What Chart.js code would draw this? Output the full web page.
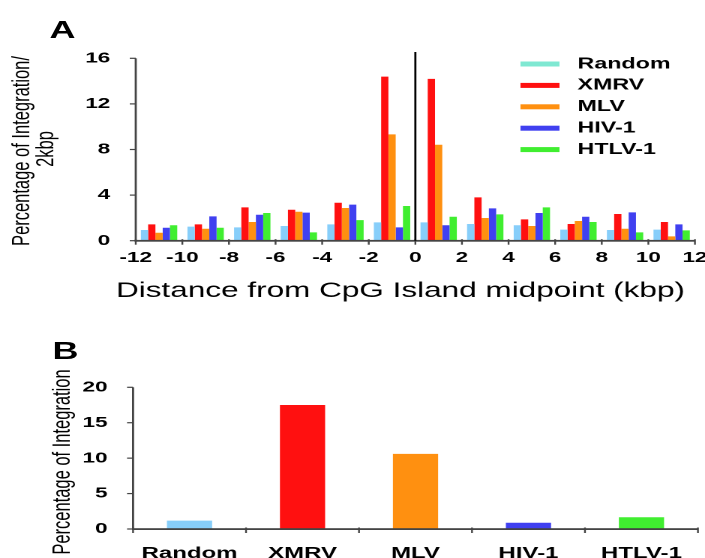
<!DOCTYPE html>
<html>
<head>
<meta charset="utf-8">
<script src="https://cdn.jsdelivr.net/npm/chart.js@4/dist/chart.umd.min.js"></script>
<style>
  html, body { margin: 0; padding: 0; background: #fff; }
  body { width: 705px; height: 558px; overflow: hidden; position: relative; }
  /* the figure is drawn narrow and stretched sideways, like the original */
  .stretch { position: absolute; left: 0; width: 470px; transform: scaleX(1.5); transform-origin: 0 0; }
  #wrapA { top: 0; height: 320px; }
  #wrapB { top: 320px; height: 238px; }
  .panel { position: absolute; font: bold 24px "Liberation Sans", Arial, sans-serif; color: #000; }
</style>
</head>
<body>
<div class="stretch" id="wrapA">
  <canvas id="chartA" width="470" height="320"></canvas>
  <div class="panel" style="left:33px; top:16px;">A</div>
</div>
<div class="stretch" id="wrapB">
  <canvas id="chartB" width="470" height="238"></canvas>
  <div class="panel" style="left:35px; top:17px;">B</div>
</div>
<script>
// Datos del panel A: % de integracion por ventana de 2 kbp
const centrosKbp = [-11, -9, -7, -5, -3, -1, 1, 3, 5, 7, 9, 11];
const random = [0.94, 1.23, 1.17, 1.29, 1.43, 1.61, 1.61, 1.46, 1.35, 0.97, 0.94, 0.97];
const xmrv   = [1.43, 1.43, 2.92, 2.72, 3.33, 14.39, 14.2, 3.8, 1.87, 1.46, 2.34, 1.64];
const mlv    = [0.70, 1.05, 1.64, 2.54, 2.87, 9.33, 8.42, 1.99, 1.29, 1.73, 1.05, 0.38];
const hiv    = [1.14, 2.13, 2.28, 2.46, 3.16, 1.17, 1.35, 2.84, 2.43, 2.10, 2.49, 1.43];
const htlv   = [1.35, 1.14, 2.43, 0.73, 1.81, 3.04, 2.10, 2.31, 2.92, 1.64, 0.73, 0.91];
const ticksXA = [-12, -10, -8, -6, -4, -2, 0, 2, 4, 6, 8, 10, 12];
const ticksYA = [0, 4, 8, 12, 16];

// Datos del panel B: % total de integracion
const virus = ['Random', 'XMRV', 'MLV', 'HIV-1', 'HTLV-1'];
const totales = [1.18, 17.5, 10.6, 0.89, 1.65];
const ticksYB = [0, 5, 10, 15, 20];

const FUENTE = '"Liberation Sans", Arial, sans-serif';
const EJE = '#444444';

const coloresBarra = ['#87cefa', '#ff1010', '#ff9010', '#4040f0', '#40ee30'];
const coloresLeyenda = ['#7fe8d2', '#ff1010', '#ff9010', '#4040f0', '#40ee30'];
const series = [random, xmrv, mlv, hiv, htlv];

// rango y paso del eje a partir de la lista de ticks
function rango(lista) {
    return { min: lista[0], max: lista[lista.length - 1], paso: lista[1] - lista[0] };
}

function textoVertical(ctx, texto, x, y, font) {
    ctx.save();
    ctx.translate(x, y);
    ctx.rotate(-Math.PI / 2);
    ctx.font = font;
    ctx.fillStyle = '#000';
    ctx.textAlign = 'center';
    ctx.textBaseline = 'middle';
    ctx.fillText(texto, 0, 0);
    ctx.restore();
}

// Ejes y marcas como rectangulos rellenos, con las posiciones de las escalas
function dibujarEjes(chart, marcasX) {
    const ctx = chart.ctx;
    const a = chart.chartArea;
    const sx = chart.scales.x, sy = chart.scales.y;
    ctx.save();
    ctx.globalAlpha = 1;
    ctx.fillStyle = EJE;
    ctx.fillRect(a.left - 0.7, a.top, 1.4, a.bottom - a.top + 1);      // eje y
    ctx.fillRect(a.left - 0.7, a.bottom - 0.8, a.right - a.left + 0.7, 1.8); // eje x
    sy.ticks.forEach((t, i) => {
        const y = sy.getPixelForTick(i);
        ctx.fillRect(a.left - 4, y - 0.6, 4, 1.2);
    });
    marcasX.forEach(v => {
        const x = sx.getPixelForValue(v);
        ctx.fillRect(x - 0.6, a.bottom - 1.5, 1.2, 5.5);
    });
    ctx.restore();
}

// Ejes, linea en 0, leyenda y titulos del panel A
const extrasA = {
    id: 'extrasA',
    afterDraw(chart) {
        const ctx = chart.ctx;
        dibujarEjes(chart, chart.scales.x.ticks.map(t => t.value));

        const x0 = chart.scales.x.getPixelForValue(0);
        ctx.save();
        ctx.fillStyle = '#000';
        ctx.fillRect(x0 - 0.7, 52, 1.4, chart.chartArea.bottom - 52);

        // leyenda
        ctx.font = 'bold 15.5px ' + FUENTE;
        ctx.textBaseline = 'middle';
        ctx.textAlign = 'left';
        chart.data.datasets.forEach((ds, i) => {
            const y = 64 + i * 21.4;
            ctx.fillStyle = coloresLeyenda[i];
            ctx.fillRect(347, y - 2.5, 26, 5);
            ctx.fillStyle = '#000';
            ctx.fillText(ds.label, 385, y);
        });

        // titulos
        ctx.font = '21px ' + FUENTE;
        ctx.textAlign = 'center';
        ctx.fillText('Distance from CpG Island midpoint (kbp)', 267, 291);
        ctx.restore();
        textoVertical(ctx, 'Percentage of Integration/', 15, 151, '16.5px ' + FUENTE);
        textoVertical(ctx, '2kbp', 31, 149, '16.5px ' + FUENTE);
    }
};

const extrasB = {
    id: 'extrasB',
    afterDraw(chart) {
        // marcas entre categorias
        const limites = [];
        for (let i = 0; i <= virus.length; i++) limites.push(i - 0.5);
        dibujarEjes(chart, limites);
        textoVertical(chart.ctx, 'Percentage of Integration', 42, 142, '16.5px ' + FUENTE);
    }
};

const rXA = rango(ticksXA), rYA = rango(ticksYA), rYB = rango(ticksYB);

new Chart(document.getElementById('chartA'), {
    type: 'bar',
    data: {
        datasets: series.map((vals, i) => ({
            label: virus[i],
            data: vals.map((v, j) => ({ x: centrosKbp[j], y: v })),
            backgroundColor: coloresBarra[i],
            borderWidth: 0,
            categoryPercentage: 0.78,
            barPercentage: 1.0
        }))
    },
    options: {
        responsive: false,
        animation: false,
        devicePixelRatio: 2,
        layout: { padding: { left: 0, top: 58.3, right: 6.7, bottom: 0 } },
        plugins: { legend: { display: false }, tooltip: { enabled: false } },
        scales: {
            x: {
                type: 'linear',
                offset: false,
                min: rXA.min,
                max: rXA.max,
                afterFit(scale) { scale.height = 79.3; scale.paddingLeft = 0; scale.paddingRight = 0; },
                border: { display: false },
                grid: { display: false, offset: false },
                ticks: { stepSize: rXA.paso, color: '#000', font: { family: FUENTE, size: 15, weight: 'bold' }, padding: 0, maxRotation: 0, autoSkip: false }
            },
            y: {
                min: rYA.min,
                max: rYA.max,
                afterFit(scale) { scale.width = 90.5; },
                border: { display: false },
                grid: { display: false },
                ticks: { stepSize: rYA.paso, color: '#000', font: { family: FUENTE, size: 15, weight: 'bold' }, padding: 9 }
            }
        }
    },
    plugins: [extrasA]
});

new Chart(document.getElementById('chartB'), {
    type: 'bar',
    data: {
        labels: virus,
        datasets: [{
            label: 'Total',
            data: totales,
            backgroundColor: coloresBarra,
            borderWidth: 0,
            categoryPercentage: 1.0,
            barPercentage: 0.4
        }]
    },
    options: {
        responsive: false,
        animation: false,
        devicePixelRatio: 2,
        layout: { padding: { left: 0, top: 67.3, right: 4.7, bottom: 0 } },
        plugins: { legend: { display: false }, tooltip: { enabled: false } },
        scales: {
            x: {
                afterFit(scale) { scale.height = 29; scale.paddingLeft = 0; scale.paddingRight = 0; },
                border: { display: false },
                grid: { display: false },
                ticks: { color: '#000', font: { family: FUENTE, size: 16, weight: 'bold' }, padding: 7, maxRotation: 0, autoSkip: false }
            },
            y: {
                min: rYB.min,
                max: rYB.max,
                afterFit(scale) { scale.width = 88.7; },
                border: { display: false },
                grid: { display: false },
                ticks: { stepSize: rYB.paso, color: '#000', font: { family: FUENTE, size: 15, weight: 'bold' }, padding: 9 }
            }
        }
    },
    plugins: [extrasB]
});
</script>
</body>
</html>
